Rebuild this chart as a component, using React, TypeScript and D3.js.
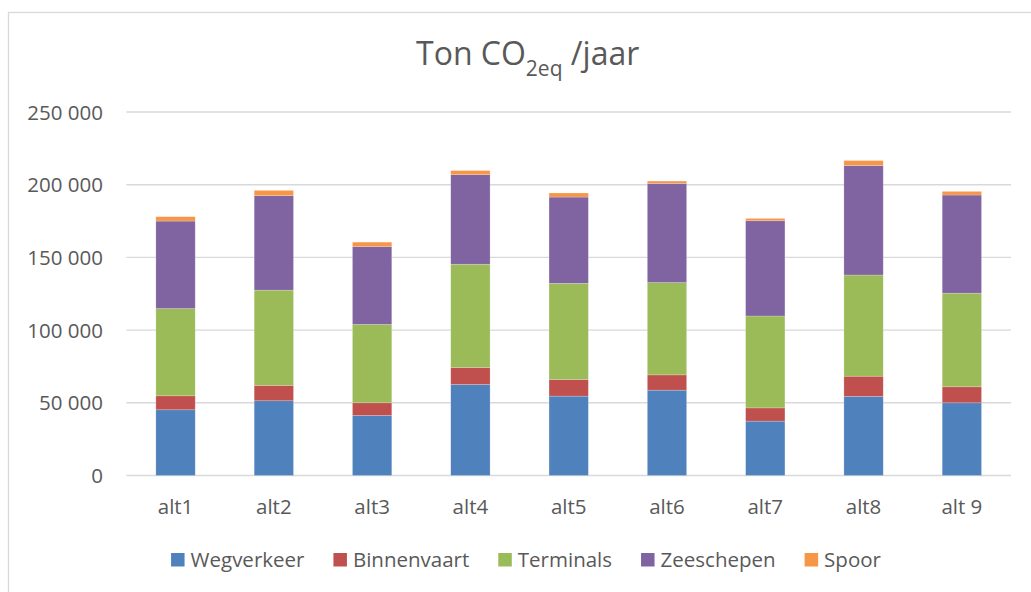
import React, { useEffect, useRef } from "react";
import * as d3 from "d3";

const categories = ["alt1", "alt2", "alt3", "alt4", "alt5", "alt6", "alt7", "alt8", "alt 9"];
const seriesNames = ["Wegverkeer", "Binnenvaart", "Terminals", "Zeeschepen", "Spoor"];
const wegverkeer = [45200, 51400, 41300, 62600, 54600, 58700, 37400, 54400, 50000];
const binnenvaart = [9600, 10600, 8700, 11700, 11500, 10500, 9100, 13900, 11000];
const terminals = [60000, 65500, 53900, 71000, 66100, 63500, 63200, 69600, 64400];
const zeeschepen = [60200, 65000, 53600, 61600, 59300, 68200, 65500, 75300, 67500];
const spoor = [3000, 3600, 3000, 2800, 2800, 1600, 1600, 3400, 2500];
const yTicks = [0, 50000, 100000, 150000, 200000, 250000];
const colors = ["#4f81bd", "#c0504d", "#9bbb59", "#8064a2", "#f79646"];

const FONT = "'Open Sans', sans-serif";
const TEXT = "#595959";
const GRID = "#d9d9d9";

export default function App() {
  const ref = useRef<SVGSVGElement>(null);

  useEffect(() => {
    const svg = d3.select(ref.current);
    svg.selectAll("*").remove();

    // chart border
    svg.append("rect")
      .attr("x", 8.5).attr("y", 12.5)
      .attr("width", 1060).attr("height", 620)
      .attr("fill", "#fff").attr("stroke", GRID).attr("stroke-width", 1.3);

    // title
    const title = svg.append("text")
      .attr("x", 416).attr("y", 65)
      .attr("font-family", FONT).attr("font-size", 32).attr("fill", TEXT);
    title.append("tspan").text("Ton CO");
    title.append("tspan").attr("font-size", 21).attr("dy", 11).text("2eq");
    title.append("tspan").attr("dy", -11).text(" /jaar");

    const rows = categories.map((c, i) => ({
      cat: c,
      Wegverkeer: wegverkeer[i],
      Binnenvaart: binnenvaart[i],
      Terminals: terminals[i],
      Zeeschepen: zeeschepen[i],
      Spoor: spoor[i],
    }));

    const x = d3.scaleBand<string>().domain(categories).range([126.4, 1011]).paddingInner(0.6).paddingOuter(0.3);
    const y = d3.scaleLinear().domain([0, 250000]).range([475.5, 112]);

    // gridlines
    svg.append("g").selectAll("line").data(yTicks).join("line")
      .attr("x1", 126.4).attr("x2", 1011)
      .attr("y1", d => y(d)).attr("y2", d => y(d))
      .attr("stroke", GRID).attr("stroke-width", 1.4);

    // y labels
    const fmt = (v: number) => d3.format(",")(v).replace(/,/g, " ");
    svg.append("g").selectAll("text").data(yTicks).join("text")
      .attr("x", 103).attr("y", d => y(d) + 7.5)
      .attr("text-anchor", "end")
      .attr("font-family", FONT).attr("font-size", 20.5).attr("fill", TEXT)
      .text(d => fmt(d));

    // stacked bars
    const stack = d3.stack<any>().keys(seriesNames)(rows);
    stack.forEach((layer, si) => {
      svg.append("g").selectAll("rect").data(layer).join("rect")
        .attr("x", d => x(d.data.cat)!)
        .attr("width", x.bandwidth())
        .attr("y", d => y(d[1]))
        .attr("height", d => y(d[0]) - y(d[1]))
        .attr("fill", colors[si])
        .attr("stroke", "rgba(255,255,255,0.35)").attr("stroke-width", 0.6);
    });

    // x labels
    svg.append("g").selectAll("text").data(categories).join("text")
      .attr("x", d => x(d)! + x.bandwidth() / 2).attr("y", 514)
      .attr("text-anchor", "middle")
      .attr("font-family", FONT).attr("font-size", 20.5).attr("fill", TEXT)
      .text(d => d);

    // legend
    const lg = svg.append("g");
    const sq = 13.5, gapT = 6, gapItem = 29;
    const items = seriesNames.map((n, i) => {
      const g = lg.append("g");
      g.append("rect").attr("x", 0).attr("y", 553).attr("width", sq).attr("height", sq).attr("fill", colors[i]);
      const t = g.append("text").attr("x", sq + gapT).attr("y", 567)
        .attr("font-family", FONT).attr("font-size", 20.5).attr("fill", TEXT).text(n);
      const w = (t.node() as SVGTextElement).getComputedTextLength();
      return { g, w: sq + gapT + w };
    });
    const total = items.reduce((s, it) => s + it.w, 0) + gapItem * (items.length - 1);
    let cx = 526 - total / 2;
    items.forEach(it => {
      it.g.attr("transform", `translate(${cx},0)`);
      cx += it.w + gapItem;
    });
  }, []);

  return (
    <svg ref={ref} width={1031} height={592}
      style={{ position: "absolute", left: 0, top: 0, background: "#fff" }} />
  );
}
